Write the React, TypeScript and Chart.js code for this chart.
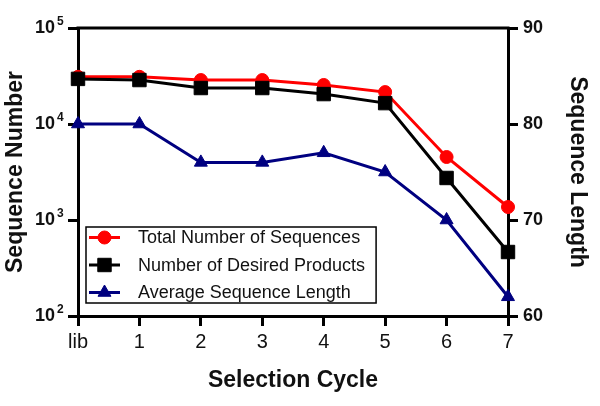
import React, { useEffect, useRef } from 'react';
import { Chart, registerables } from 'chart.js';
import { drawPoint } from 'chart.js/helpers';

Chart.register(...registerables);

const cycles = ['lib', '1', '2', '3', '4', '5', '6', '7'];
const totalSequences = [31000, 31000, 28700, 28700, 25500, 21500, 4530, 1365];
const desiredProducts = [29500, 28700, 23700, 23700, 20500, 16500, 2740, 464];
const avgLength = [80, 80, 76, 76, 77, 75, 70, 62];
const leftTicks = [100, 1000, 10000, 100000];
const rightTicks = [60, 70, 80, 90];
const seriesLabels = ['Total Number of Sequences', 'Number of Desired Products', 'Average Sequence Length'];

const FONT = '"Liberation Sans", Arial, sans-serif';

const framePlugin = {
  id: 'frameTop',
  afterDraw(chart: any) {
    const { ctx, chartArea } = chart;
    ctx.save();
    ctx.strokeStyle = '#000';
    ctx.lineWidth = 3;
    ctx.beginPath();
    ctx.moveTo(chartArea.left - 1.5, chartArea.top);
    ctx.lineTo(chartArea.right + 1.5, chartArea.top);
    ctx.stroke();
    ctx.restore();
  },
};

// draws the exponent of each "10" tick label on the log axis as a raised superscript
const exponentPlugin = {
  id: 'logExponents',
  afterDraw(chart: any) {
    const { ctx } = chart;
    const s = chart.scales.y;
    ctx.save();
    ctx.font = `bold 12px ${FONT}`;
    ctx.fillStyle = '#111';
    ctx.textAlign = 'left';
    ctx.textBaseline = 'alphabetic';
    leftTicks.forEach((v) => {
      const y = s.getPixelForValue(v);
      const x = s.right - 10 - 13 + 2;
      ctx.fillText(String(Math.round(Math.log10(v))), x, y - 3);
    });
    ctx.restore();
  },
};

const legendPlugin = {
  id: 'insideLegend',
  afterDraw(chart: any) {
    const { ctx, chartArea } = chart;
    const ds = chart.data.datasets;
    ctx.save();
    ctx.font = `18px ${FONT}`;
    let maxW = 0;
    ds.forEach((d: any) => { maxW = Math.max(maxW, ctx.measureText(d.label).width); });
    const boxX = chartArea.left + 8;
    const boxTop = chartArea.bottom - 89;
    const rowH = 27.5;
    const textOff = 52;
    const boxW = textOff + maxW + 11;
    const boxH = 76;
    ctx.fillStyle = '#fff';
    ctx.fillRect(boxX, boxTop, boxW, boxH);
    ctx.strokeStyle = '#000';
    ctx.lineWidth = 1.5;
    ctx.strokeRect(boxX, boxTop, boxW, boxH);
    [0, 1, 2].forEach((i, row) => {
      const d = ds[i];
      const cy = boxTop + 10.5 + row * rowH;
      ctx.strokeStyle = d.borderColor;
      ctx.lineWidth = 3;
      ctx.beginPath();
      ctx.moveTo(boxX + 3, cy);
      ctx.lineTo(boxX + 34, cy);
      ctx.stroke();
      ctx.fillStyle = d.backgroundColor;
      ctx.strokeStyle = d.borderColor;
      ctx.lineWidth = 1;
      drawPoint(ctx, { pointStyle: d.pointStyle, radius: d.pointRadius, rotation: 0, borderWidth: 1 } as any, boxX + 18.5, cy);
      ctx.fillStyle = '#111';
      ctx.textBaseline = 'middle';
      ctx.textAlign = 'left';
      ctx.fillText(d.label, boxX + textOff, cy + 1);
    });
    ctx.restore();
  },
};

export default function App() {
  const ref = useRef<HTMLCanvasElement>(null);
  useEffect(() => {
    if (!ref.current) return;
    const axisGrid = { drawOnChartArea: false, tickLength: 10, color: '#000', lineWidth: 3 };
    const axisBorder = { display: true, color: '#000', width: 3 };
    const chart = new Chart(ref.current, {
      type: 'line',
      data: {
        labels: cycles,
        datasets: [
          {
            label: seriesLabels[0], data: totalSequences, yAxisID: 'y',
            borderColor: '#ff0000', backgroundColor: '#ff0000', pointStyle: 'circle', pointRadius: 6.5,
            borderWidth: 3, pointBorderWidth: 1, order: 3,
          },
          {
            label: seriesLabels[1], data: desiredProducts, yAxisID: 'y',
            borderColor: '#000000', backgroundColor: '#000000', pointStyle: 'rect', pointRadius: 9.5,
            borderWidth: 3, pointBorderWidth: 1, order: 2,
          },
          {
            label: seriesLabels[2], data: avgLength, yAxisID: 'y1',
            borderColor: '#000080', backgroundColor: '#000080', pointStyle: 'triangle', pointRadius: 7.5,
            borderWidth: 3, pointBorderWidth: 1, order: 1,
          },
        ],
      } as any,
      options: {
        responsive: false,
        animation: false,
        devicePixelRatio: 1,
        layout: { padding: { top: 28, left: 0, right: 0, bottom: 0 } },
        plugins: { legend: { display: false }, tooltip: { enabled: false } },
        elements: { line: { tension: 0 } },
        scales: {
          x: {
            type: 'category',
            offset: false,
            grid: axisGrid,
            border: axisBorder,
            ticks: { color: '#111', font: { family: FONT, size: 20 }, padding: 4, maxRotation: 0, autoSkip: false },
            title: { display: true, text: 'Selection Cycle', color: '#111', font: { family: FONT, size: 23, weight: 'bold' }, padding: { top: 0, bottom: 12 } },
            afterFit: (s: any) => { s.height = 90; },
          },
          y: {
            type: 'logarithmic',
            position: 'left',
            min: leftTicks[0],
            max: leftTicks[leftTicks.length - 1],
            grid: axisGrid,
            border: axisBorder,
            afterBuildTicks: (s: any) => { s.ticks = leftTicks.map((v) => ({ value: v, major: true })); },
            ticks: {
              autoSkip: false,
              color: '#111',
              font: { family: FONT, size: 18, weight: 'bold' },
              padding: 13,
              callback: () => '10',
            },
            title: { display: true, text: 'Sequence Number', color: '#111', font: { family: FONT, size: 23, weight: 'bold' }, padding: { top: 2, bottom: 0 } },
            afterFit: (s: any) => { s.width = 78; },
          },
          y1: {
            type: 'linear',
            position: 'right',
            min: rightTicks[0],
            max: rightTicks[rightTicks.length - 1],
            grid: axisGrid,
            border: axisBorder,
            afterBuildTicks: (s: any) => { s.ticks = rightTicks.map((v) => ({ value: v })); },
            ticks: { color: '#111', font: { family: FONT, size: 18, weight: 'bold' }, padding: 5, autoSkip: false },
            title: { display: true, text: 'Sequence Length', color: '#111', font: { family: FONT, size: 23, weight: 'bold' }, padding: { top: 9, bottom: 0 } },
            afterFit: (s: any) => { s.width = 92; },
          },
        },
      } as any,
      plugins: [framePlugin, exponentPlugin, legendPlugin],
    });
    return () => chart.destroy();
  }, []);
  return (
    <div style={{ position: 'absolute', left: 0, top: 0, width: 600, height: 406, background: '#fff' }}>
      <canvas ref={ref} width={600} height={406} style={{ display: 'block' }} />
    </div>
  );
}
